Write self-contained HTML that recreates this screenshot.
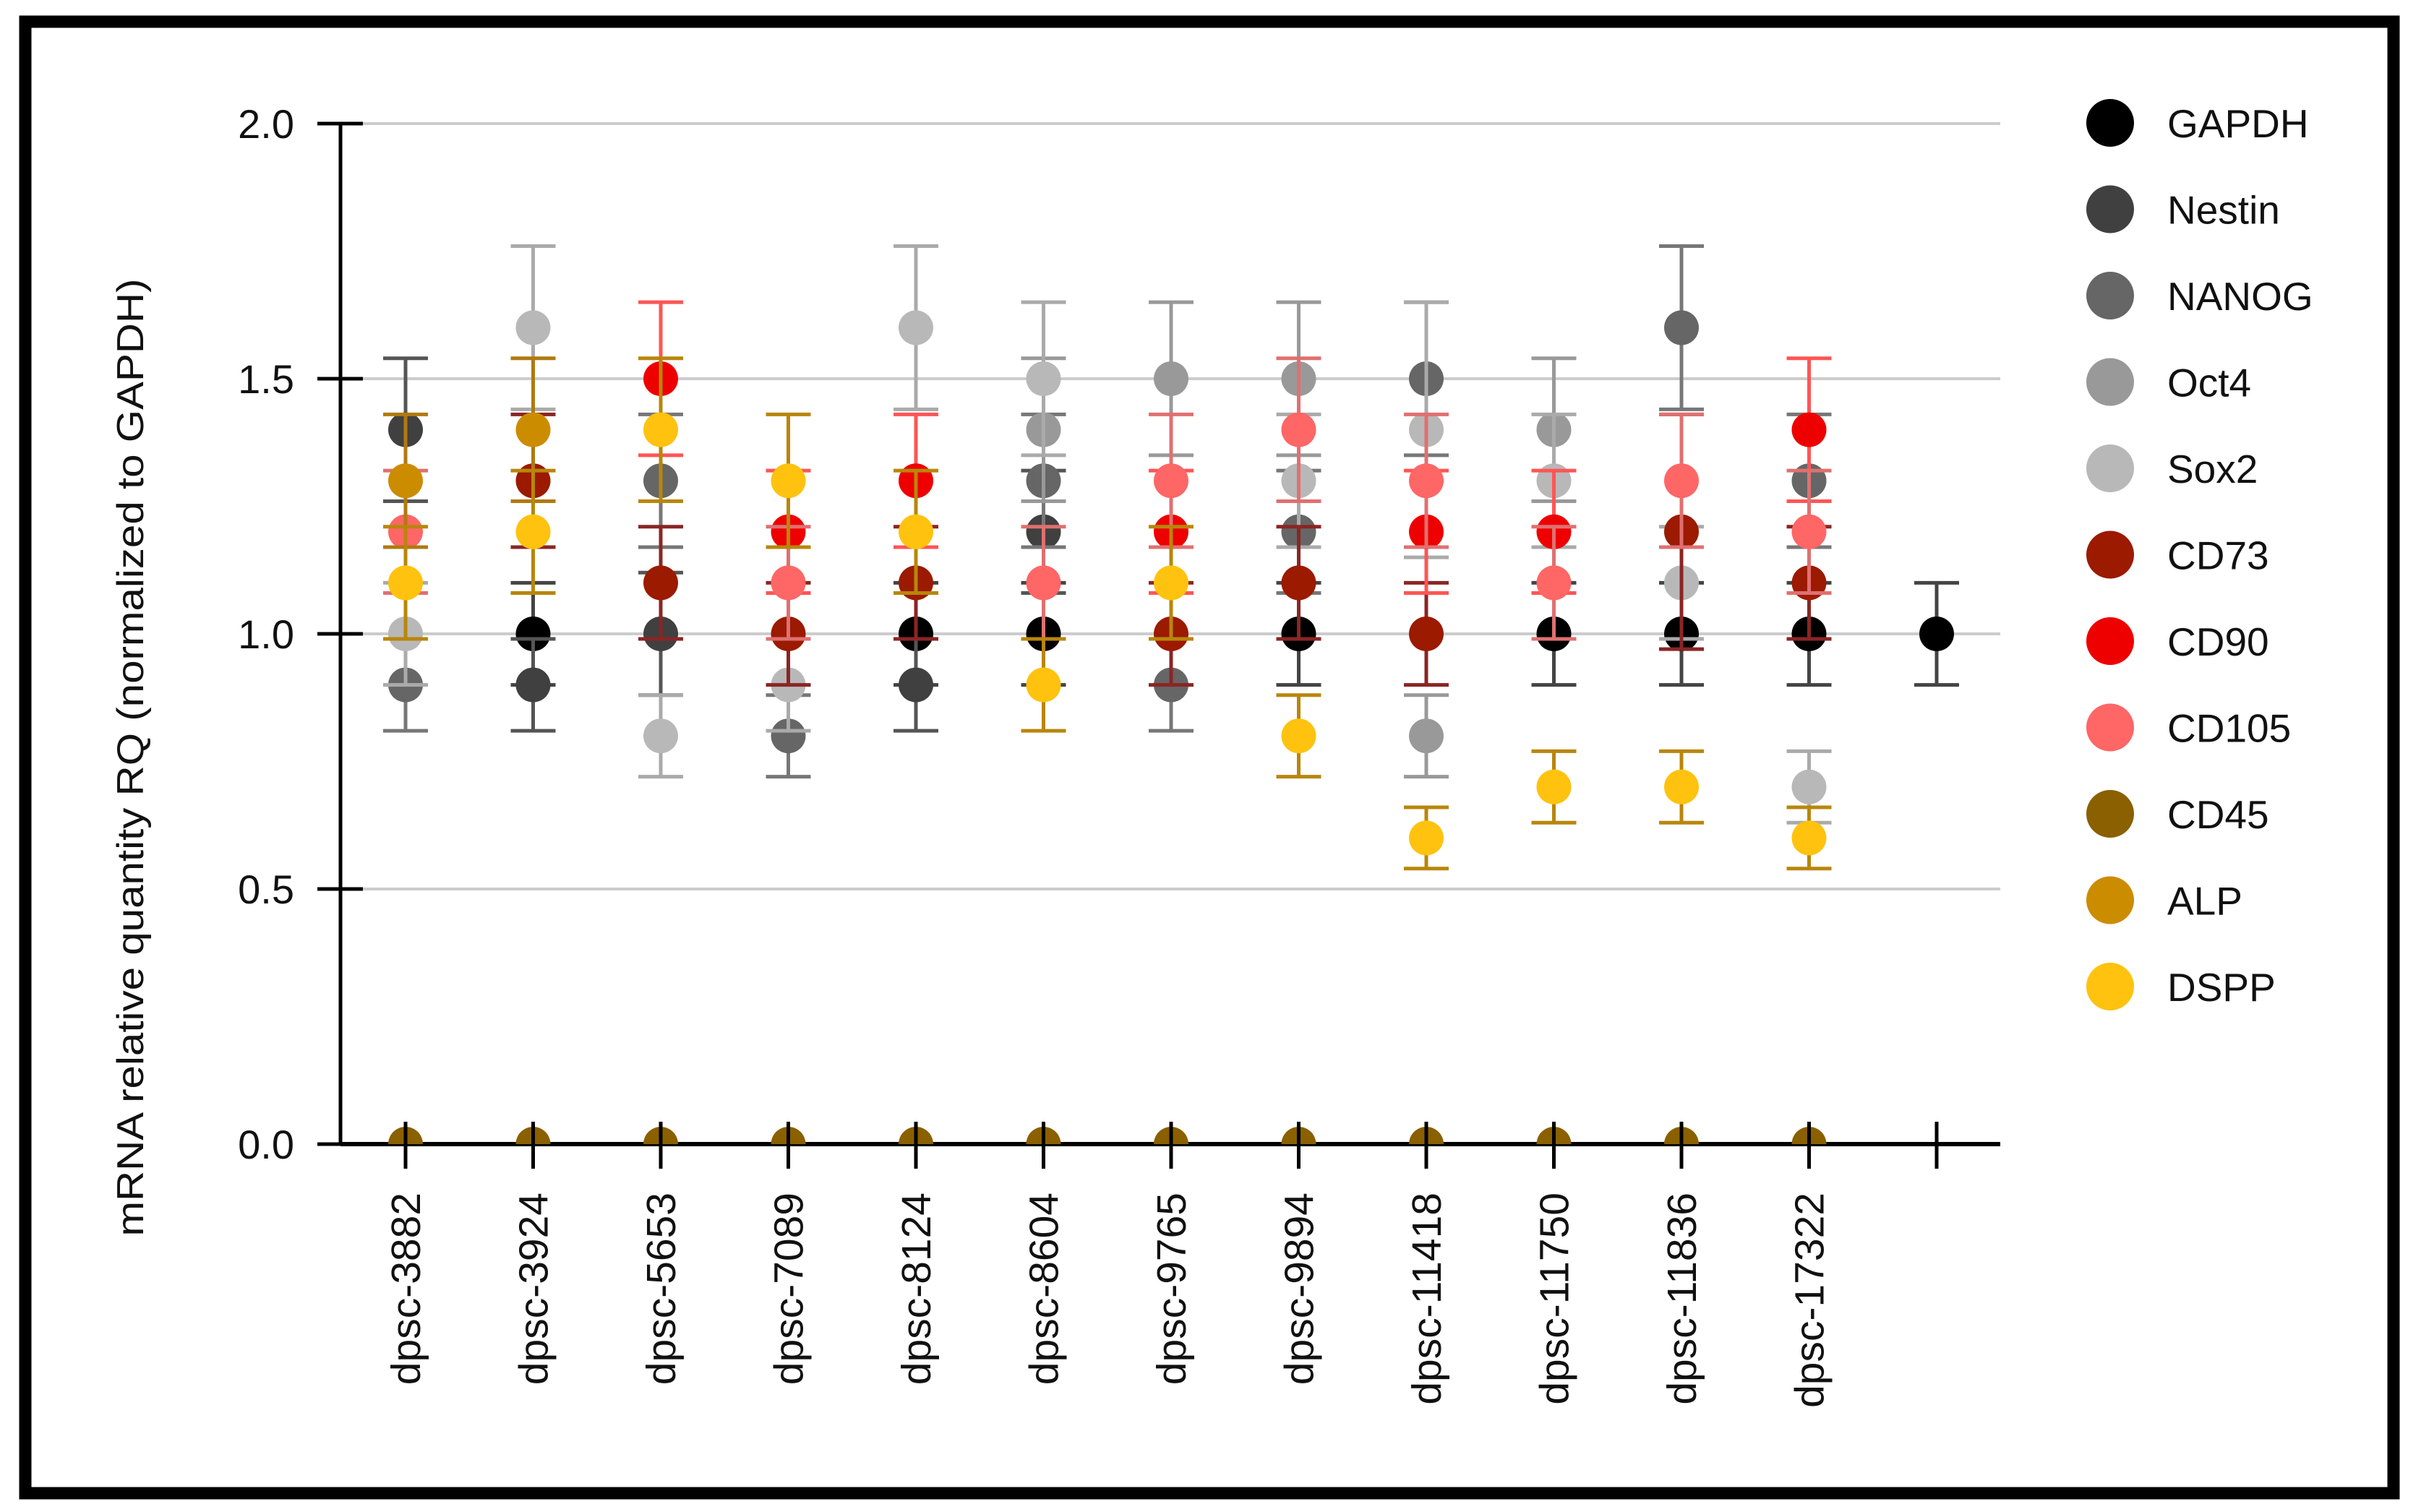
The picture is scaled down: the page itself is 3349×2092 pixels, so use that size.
<!DOCTYPE html>
<html><head><meta charset="utf-8"><style>
html,body{margin:0;padding:0;background:#fff}
svg{display:block}
text{font-family:"Liberation Sans",sans-serif;fill:#111}
</style></head><body>
<svg id="chart" width="3349" height="2092" viewBox="0 0 3349 2092" xmlns="http://www.w3.org/2000/svg">
<rect x="35" y="30" width="3276" height="2036" fill="#fff" stroke="#000" stroke-width="17"/>
<defs><clipPath id="plotclip"><rect x="0" y="0" width="3349" height="1583"/></clipPath></defs>
<g id="grid"></g><g id="axes"></g><g id="marks" clip-path="url(#plotclip)"></g><g id="legend"></g>
</svg>
<script>
const categories=["dpsc-3882","dpsc-3924","dpsc-5653","dpsc-7089","dpsc-8124","dpsc-8604","dpsc-9765","dpsc-9894","dpsc-11418","dpsc-11750","dpsc-11836","dpsc-17322",""];
const yTicks=[0,0.5,1.0,1.5,2.0];
const yTickLabels=["0.0","0.5","1.0","1.5","2.0"];
const seriesNames=["GAPDH","Nestin","NANOG","Oct4","Sox2","CD73","CD90","CD105","CD45","ALP","DSPP"];
const n=null;
const GAPDH=[n,1.0,n,n,1.0,1.0,n,1.0,n,1.0,1.0,1.0,1.0];
const GAPDHErr=[n,0.1,n,n,0.1,0.1,n,0.1,n,0.1,0.1,0.1,0.1];
const Nestin=[1.4,0.9,1.0,n,0.9,1.2,n,n,n,n,n,n,n];
const NestinErr=[0.14,0.09,0.12,n,0.09,0.12,n,n,n,n,n,n,n];
const NANOG=[0.9,n,1.3,0.8,n,1.3,0.9,1.2,1.5,n,1.6,1.3,n];
const NANOGErr=[0.09,n,0.13,0.08,n,0.13,0.09,0.12,0.15,n,0.16,0.13,n];
const Oct4=[n,n,n,n,n,1.4,1.5,1.5,0.8,1.4,n,n,n];
const Oct4Err=[n,n,n,n,n,0.14,0.15,0.15,0.08,0.14,n,n,n];
const Sox2=[1.0,1.6,0.8,0.9,1.6,1.5,n,1.3,1.4,1.3,1.1,0.7,n];
const Sox2Err=[0.1,0.16,0.08,0.09,0.16,0.15,n,0.13,0.25,0.13,0.11,0.07,n];
const CD73=[n,1.3,1.1,1.0,1.1,n,1.0,1.1,1.0,n,1.2,1.1,n];
const CD73Err=[n,0.13,0.11,0.1,0.11,n,0.1,0.11,0.1,n,0.23,0.11,n];
const CD90=[n,n,1.5,1.2,1.3,n,1.2,n,1.2,1.2,n,1.4,n];
const CD90Err=[n,n,0.15,0.12,0.13,n,0.12,n,0.12,0.12,n,0.14,n];
const CD105=[1.2,n,n,1.1,n,1.1,1.3,1.4,1.3,1.1,1.3,1.2,n];
const CD105Err=[0.12,n,n,0.11,n,0.11,0.13,0.14,0.13,0.11,0.13,0.12,n];
const CD45=[0,0,0,0,0,0,0,0,0,0,0,0,n];
const CD45Err=[0,0,0,0,0,0,0,0,0,0,0,0,n];
const ALP=[1.3,1.4,n,n,n,n,n,n,n,n,n,n,n];
const ALPErr=[0.13,0.14,n,n,n,n,n,n,n,n,n,n,n];
const DSPP=[1.1,1.2,1.4,1.3,1.2,0.9,1.1,0.8,0.6,0.7,0.7,0.6,n];
const DSPPErr=[0.11,0.12,0.14,0.13,0.12,0.09,0.11,0.08,0.06,0.07,0.07,0.06,n];

const seriesValues=[GAPDH,Nestin,NANOG,Oct4,Sox2,CD73,CD90,CD105,CD45,ALP,DSPP];
const seriesErrors=[GAPDHErr,NestinErr,NANOGErr,Oct4Err,Sox2Err,CD73Err,CD90Err,CD105Err,CD45Err,ALPErr,DSPPErr];
const fills=["#000000","#404040","#666666","#999999","#b8b8b8","#9b1a00","#ee0000","#ff6666","#8a6000","#cc8c00","#ffc20e"];
const errColors=["#444444","#555555","#777777","#999999","#aaaaaa","#8b2525","#ff5555","#e07070","#7a5500","#b07a10","#b8860b"];

const NS="http://www.w3.org/2000/svg";
const X0=471, XEND=2767, Y0=1583, YTOP=171;
function xPos(i){return 561+i*176.5;}
function yPos(v){return Y0-(v-0)/(2.0-0)*(Y0-YTOP);}
function mk(tag,attrs,parent){const e=document.createElementNS(NS,tag);for(const k in attrs)e.setAttribute(k,attrs[k]);parent.appendChild(e);return e;}
const grid=document.getElementById('grid'),axes=document.getElementById('axes'),marks=document.getElementById('marks'),legend=document.getElementById('legend');

yTicks.forEach((t,i)=>{
  const y=yPos(t);
  if(t>0){const g=mk('line',{x1:X0,x2:XEND,y1:y,y2:y,stroke:'#cccccc','stroke-width':4},grid);
  
  }
  const tk=mk('line',{x1:439,x2:502,y1:y,y2:y,stroke:'#000','stroke-width':5},axes);
  
  
  const lb=mk('text',{x:407,y:y+20,'text-anchor':'end','font-size':56},axes);
  lb.textContent=yTickLabels[i];
  
  
});
const ya=mk('line',{x1:X0,x2:X0,y1:YTOP,y2:Y0+2,stroke:'#000','stroke-width':5},axes);


const xa=mk('line',{x1:X0,x2:XEND,y1:Y0,y2:Y0,stroke:'#000','stroke-width':6},axes);


const yt=mk('text',{x:0,y:0,'text-anchor':'middle','font-size':52,transform:'translate(198,1048) rotate(-90)',textLength:1325,lengthAdjust:'spacingAndGlyphs'},axes);
yt.textContent='mRNA relative quantity RQ (normalized to GAPDH)';



categories.forEach((c,i)=>{
  const x=xPos(i);
  const tk=mk('line',{x1:x,x2:x,y1:1552,y2:1617,stroke:'#000','stroke-width':5},axes);
  
  
  if(c){const lb=mk('text',{x:0,y:0,'text-anchor':'end','font-size':57,transform:`translate(${x+20},1650) rotate(-90)`},axes);
  lb.textContent=c;
  
  }
});

seriesValues.forEach((vals,s)=>{
  const g=mk('g',{},marks);
  
  
  vals.forEach((v,i)=>{
    if(v===null)return;
    const x=xPos(i), e=seriesErrors[s][i]||0;
    if(e>0){
      const yt1=yPos(v+e), yb=yPos(Math.max(0,v-e));
      const eb=mk('path',{d:`M${x},${yt1}V${yb}M${x-31},${yt1}H${x+31}M${x-31},${yb}H${x+31}`,stroke:errColors[s],'stroke-width':5,fill:'none'},g);
      
      
    }
    const d=mk('circle',{cx:x,cy:yPos(v),r:24,fill:fills[s]},g);
    
    
  });
});
// redraw x-axis tick over clipped CD45 dots
categories.forEach((c,i)=>{
  const x=xPos(i);
  const tk=mk('line',{x1:x,x2:x,y1:1552,y2:1585,stroke:'#000','stroke-width':5},marks);
  
  
});

seriesNames.forEach((nm,s)=>{
  const y=170+s*119.5;
  const g=mk('g',{},legend);
  
  
  mk('circle',{cx:2919,cy:y,r:33,fill:fills[s]},g);
  const t=mk('text',{x:2998,y:y+20,'font-size':55},g);
  t.textContent=nm;
});
</script>
</body></html>
